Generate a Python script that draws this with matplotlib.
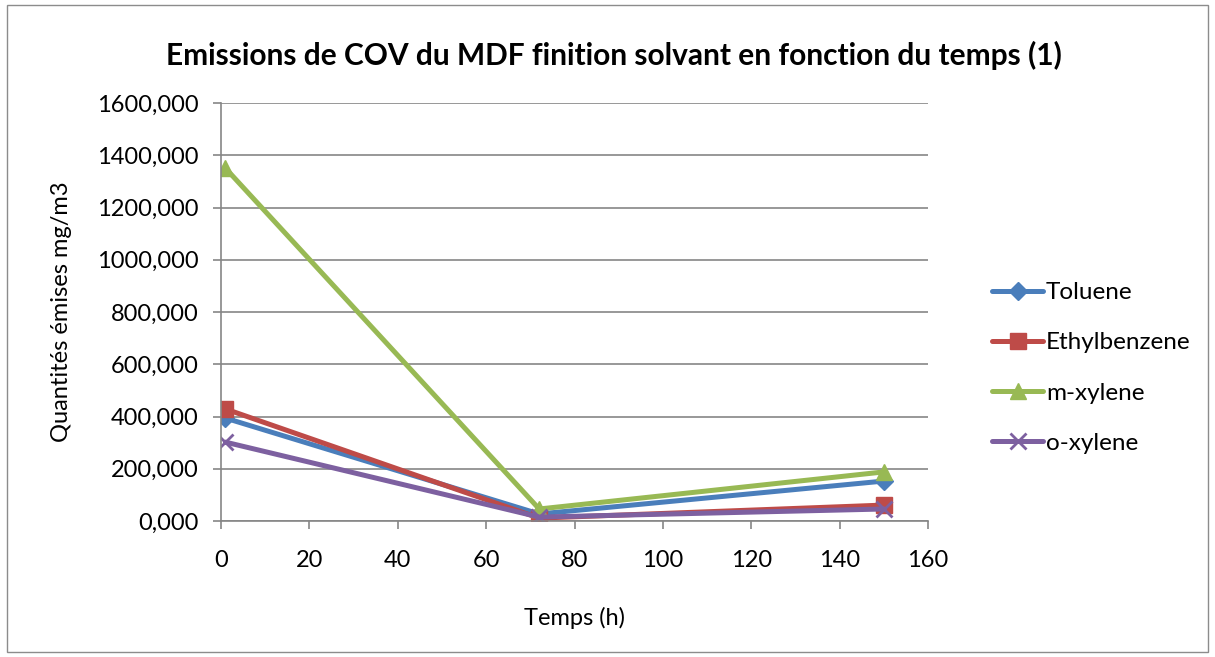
import matplotlib
matplotlib.use("Agg")
import matplotlib.pyplot as plt
from matplotlib.patches import Rectangle
from matplotlib.ticker import FuncFormatter

plt.rcParams['font.family'] = ['Lato', 'DejaVu Sans']

time_h = [1, 72, 150]
toluene = [394, 27, 153]
ethylbenzene = [429, 11, 61]
m_xylene = [1351, 46, 188]
o_xylene = [302, 15, 46]

series = [
    ("Toluene", toluene, "#4A7EBB", "D", 9),
    ("Ethylbenzene", ethylbenzene, "#BE4B48", "s", 11),
    ("m-xylene", m_xylene, "#98B954", "^", 12),
    ("o-xylene", o_xylene, "#7D60A0", "x", 11),
]

fig = plt.figure(figsize=(12.15, 6.57), dpi=100)
fig.patches.append(Rectangle((0.006, 0.008), 0.988, 0.984, transform=fig.transFigure,
                             fill=False, edgecolor="#8C8C8C", linewidth=1.0))
ax = fig.add_axes([0.1819, 0.207, 0.582, 0.636])

for name, vals, col, mk, ms in series:
    ax.plot(time_h, vals, color=col, linewidth=3.6, marker=mk, markersize=ms,
            markeredgecolor=col, markeredgewidth=2 if mk == "x" else 1,
            markerfacecolor=col, label=name, solid_capstyle="round")

ax.set_xlim(0, 160)
ax.set_ylim(0, 1600)
ax.set_xticks(range(0, 161, 20))
ax.set_yticks(range(0, 1601, 200))
ax.yaxis.set_major_formatter(FuncFormatter(lambda v, p: f"{v:.3f}".replace(".", ",")))
ax.grid(axis="y", color="#868686", linewidth=1.2)
ax.set_axisbelow(True)
for s in ["top", "right"]:
    ax.spines[s].set_visible(False)
for s in ["left", "bottom"]:
    ax.spines[s].set_color("#868686")
    ax.spines[s].set_linewidth(1.2)
ax.tick_params(axis="both", colors="#868686", labelcolor="black", labelsize=17,
               length=6, width=1.2)
ax.tick_params(axis="x", pad=15)
ax.tick_params(axis="y", pad=10)

ax.set_xlabel("Temps (h)", fontsize=17, labelpad=26)
ax.set_ylabel("Quantités émises mg/m3", fontsize=17, labelpad=18)
fig.text(0.505, 0.915, "Emissions de COV du MDF finition solvant en fonction du temps (1)",
         ha="center", va="center", fontsize=21.5, fontweight="bold")

leg = ax.legend(loc="center left", bbox_to_anchor=(1.06, 0.366), frameon=False,
                fontsize=17.5, handlelength=2.1, labelspacing=1.2, handletextpad=0.1)

fig.savefig("out.png", dpi=100)
